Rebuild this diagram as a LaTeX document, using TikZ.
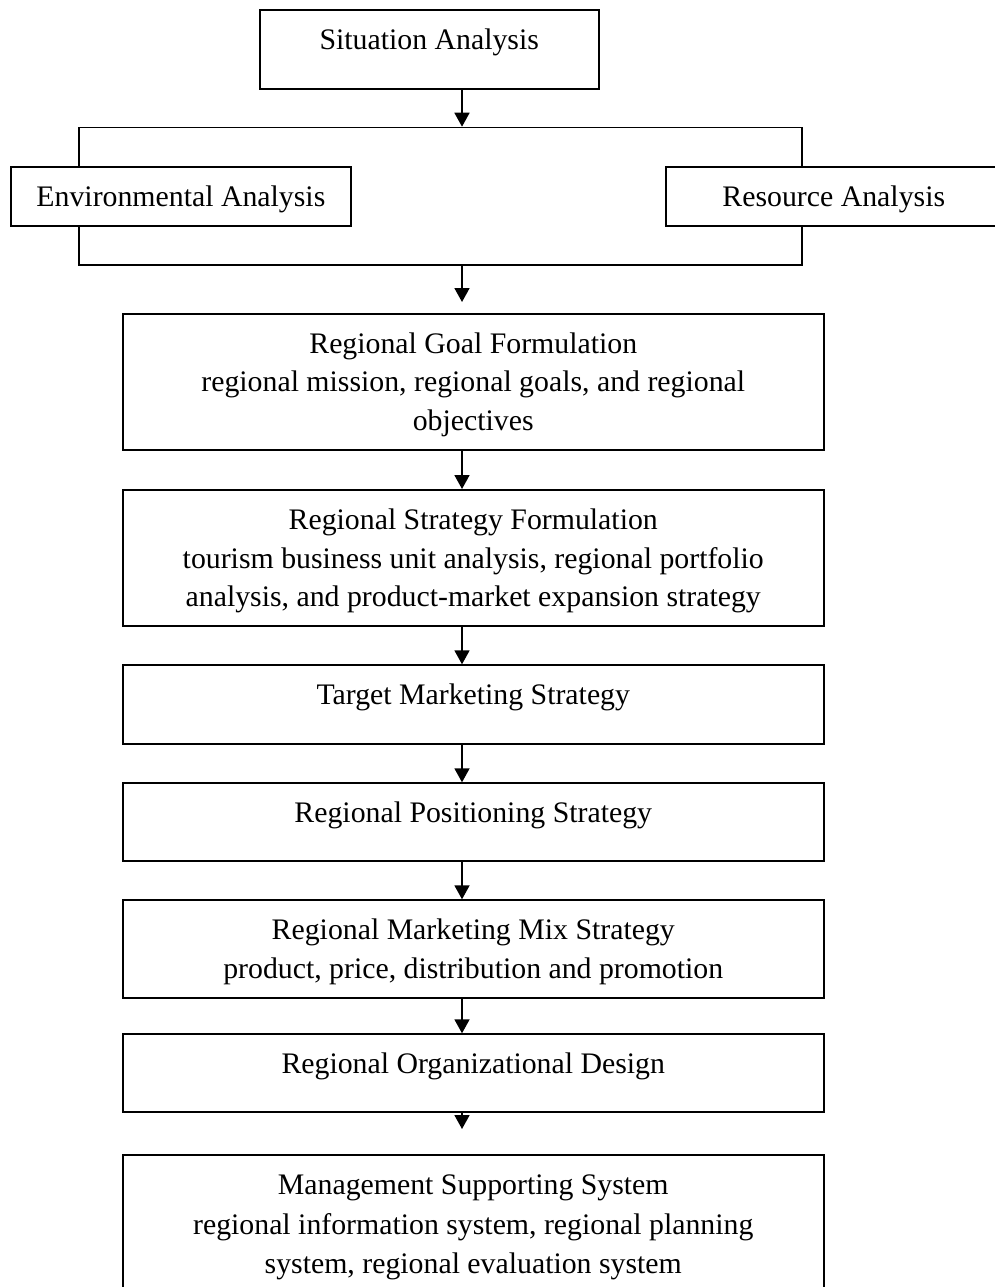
\documentclass[tikz,border=0pt]{standalone}
\usepackage{fontspec}
\setmainfont{Liberation Serif}
\usetikzlibrary{arrows.meta,calc}
\begin{document}
\begin{tikzpicture}[x=1pt,y=-1pt,
  box/.style={draw, line width=1.8pt, fill=white, inner sep=0pt, anchor=north west},
  txt/.style={anchor=base, inner sep=0pt, font=\fontsize{29.8}{38.6}\selectfont},
  wide/.style={font=\fontsize{29.8}{39.6}\selectfont},
  arr/.style={line width=1.8pt, -{Triangle[length=14pt,width=15pt]}}]
\useasboundingbox (0,0) rectangle (995,1287);
\coordinate (axis) at (462,0);

% top box and the frame joining the two analyses
\node[box, minimum width=339.3pt, minimum height=78.7pt] (sit) at (258.7,9.3) {};
\node[box, fill=none, minimum width=723pt, minimum height=137.3pt] (brk) at (78,126.7) {};
\node[box, minimum width=340pt, minimum height=59.3pt] (env) at (10,165.7) {};
\node[box, minimum width=350pt, minimum height=59.3pt] (res) at (665,165.7) {};

% main chain of stages
\node[box, minimum width=700.7pt, minimum height=136.6pt] (goal) at (122,312.7) {};
\node[box, minimum width=700.7pt, minimum height=136pt] (strat) at (122,489) {};
\node[box, minimum width=700.7pt, minimum height=78.4pt] (target) at (122,664.3) {};
\node[box, minimum width=700.7pt, minimum height=77.7pt] (pos) at (122,782.3) {};
\node[box, minimum width=700.7pt, minimum height=98pt] (mix) at (122,899.3) {};
\node[box, minimum width=700.7pt, minimum height=77.7pt] (org) at (122,1033.3) {};
\node[box, minimum width=700.7pt, minimum height=150pt] (mgmt) at (122,1154) {};

% labels, first baseline a fixed distance below each box top
\node[txt] (sitT) at ($(sit.north)+(0,40.7)$) {Situation Analysis};
\node[txt] (envT) at ($(env.north)+(0,41)$) {Environmental Analysis};
\node[txt] (resT) at ($(res.north west)+(168.8,41)$) {Resource Analysis};
\node[txt] (goalT) at ($(goal.north)+(0,40.6)$) {\begin{tabular}[t]{@{}c@{}}Regional Goal Formulation\\ regional mission, regional goals, and regional\\ objectives\end{tabular}};
\node[txt] (stratT) at ($(strat.north)+(0,40.6)$) {\begin{tabular}[t]{@{}c@{}}Regional Strategy Formulation\\ tourism business unit analysis, regional portfolio\\ analysis, and product-market expansion strategy\end{tabular}};
\node[txt] (targetT) at ($(target.north)+(0,40.6)$) {Target Marketing Strategy};
\node[txt] (posT) at ($(pos.north)+(0,40.6)$) {Regional Positioning Strategy};
\node[txt] (mixT) at ($(mix.north)+(0,40.6)$) {\begin{tabular}[t]{@{}c@{}}Regional Marketing Mix Strategy\\ product, price, distribution and promotion\end{tabular}};
\node[txt] (orgT) at ($(org.north)+(0,40.6)$) {Regional Organizational Design};
\node[txt, wide] (mgmtT) at ($(mgmt.north)+(0,40.6)$) {\begin{tabular}[t]{@{}c@{}}Management Supporting System\\ regional information system, regional planning\\ system, regional evaluation system\end{tabular}};

% connectors
\draw[arr] (sit.south -| axis) -- (brk.north -| axis);
\draw[arr, shorten >=10.7pt] (brk.south -| axis) -- (goal.north -| axis);
\draw[arr] (goal.south -| axis) -- (strat.north -| axis);
\draw[arr] (strat.south -| axis) -- (target.north -| axis);
\draw[arr] (target.south -| axis) -- (pos.north -| axis);
\draw[arr] (pos.south -| axis) -- (mix.north -| axis);
\draw[arr] (mix.south -| axis) -- (org.north -| axis);
\draw[arr, shorten >=25pt] (org.south -| axis) -- (mgmt.north -| axis);
\end{tikzpicture}
\end{document}
